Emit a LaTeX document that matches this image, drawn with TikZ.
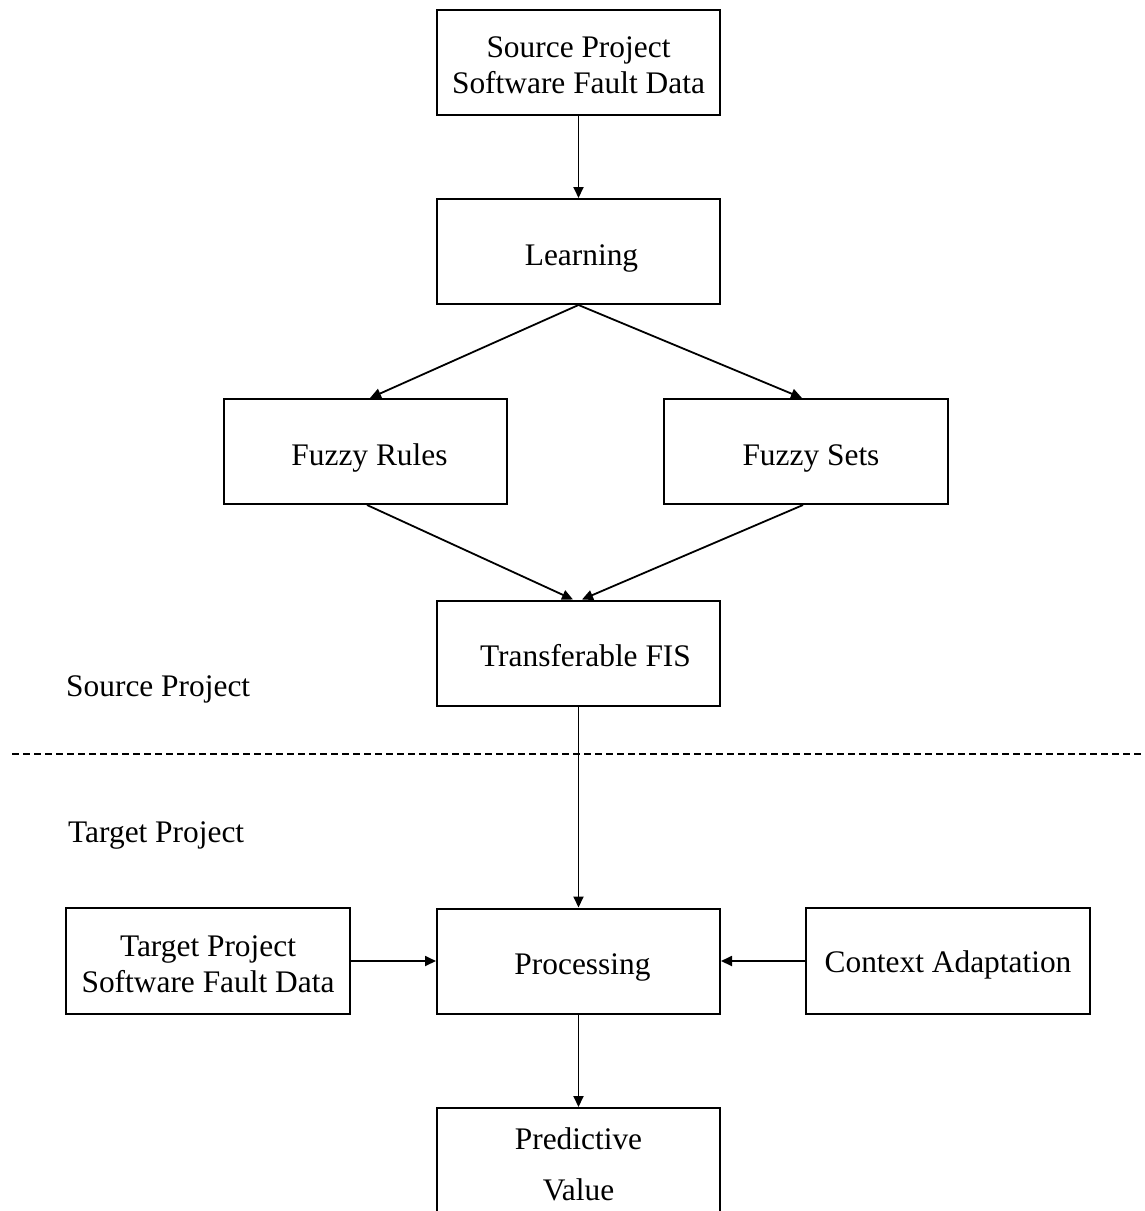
\documentclass[tikz,border=0pt]{standalone}
\usepackage{fontspec}
\setmainfont{Liberation Serif}
\usetikzlibrary{arrows.meta}
\begin{document}
\begin{tikzpicture}[x=1pt,y=-1pt,
  every node/.style={font=\fontsize{31.4}{36}\selectfont},
  box/.style={draw, line width=2pt, minimum width=283pt, minimum height=105pt, inner sep=0pt, align=center},
  oneline/.style={text height=27pt, text depth=0pt},
  link/.style={line width=1.8pt, -{Triangle[length=11pt,width=10pt]}},
  side/.style={anchor=west, inner sep=0pt}]
\clip (0,0) rectangle (1145,1211);
\useasboundingbox (0,0) rectangle (1145,1211);

% source side
\node[box, label={[yshift=-2.5pt, align=center]center:{Source Project\\Software Fault Data}}] (src) at (578.5,62.5) {};
\node[box, oneline] (learn) at (578.5,251.5) {\hspace*{6pt}Learning};
\node[box, oneline] (rules) at (365.5,451.5) {\hspace*{8pt}Fuzzy Rules};
\node[box, oneline, minimum width=284pt] (sets) at (806,451.5) {\hspace*{10pt}Fuzzy Sets};
\node[box, oneline] (fis) at (578.5,653) {\hspace*{14pt}Transferable FIS};

% target side
\node[box, oneline] (proc) at (578.5,961) {\hspace*{8pt}Processing};
\node[box, minimum width=284pt, minimum height=106pt,
      label={[yshift=-3pt, align=center]center:{Target Project\\Software Fault Data}}] (tgt) at (208,961) {};
\node[box, minimum width=284pt, minimum height=106pt, text height=22pt, text depth=0pt] (ctx) at (948,961) {Context Adaptation};
\node[box, minimum height=106pt,
      label={[yshift=-3pt, align=center, font=\fontsize{31.4}{51}\selectfont]center:{Predictive\\Value}}] (pred) at (578.5,1161) {};

% region labels and separator
\node[side] (srclbl) at (66,689) {Source Project};
\node[side] (tgtlbl) at (68,835) {Target Project};
\coordinate (sepL) at (12,754);
\coordinate (sepR) at (1145,754);
\draw[line width=1.8pt, dash pattern=on 7pt off 4pt] (sepL) -- (sepR);

% connectors
\draw[link] (src) -- (learn);
\draw[link] (learn.south) -- ([xshift=4.5pt]rules.north);
\draw[link] (learn.south) -- ([xshift=-4pt]sets.north);
\draw[link] ([xshift=1.5pt]rules.south) -- ([xshift=-5.5pt]fis.north);
\draw[link] ([xshift=-3pt]sets.south) -- ([xshift=3.5pt]fis.north);
\draw[link] (fis) -- (proc);
\draw[link] (tgt) -- (proc);
\draw[link] (ctx) -- (proc);
\draw[link] (proc) -- (pred);
\end{tikzpicture}
\end{document}
